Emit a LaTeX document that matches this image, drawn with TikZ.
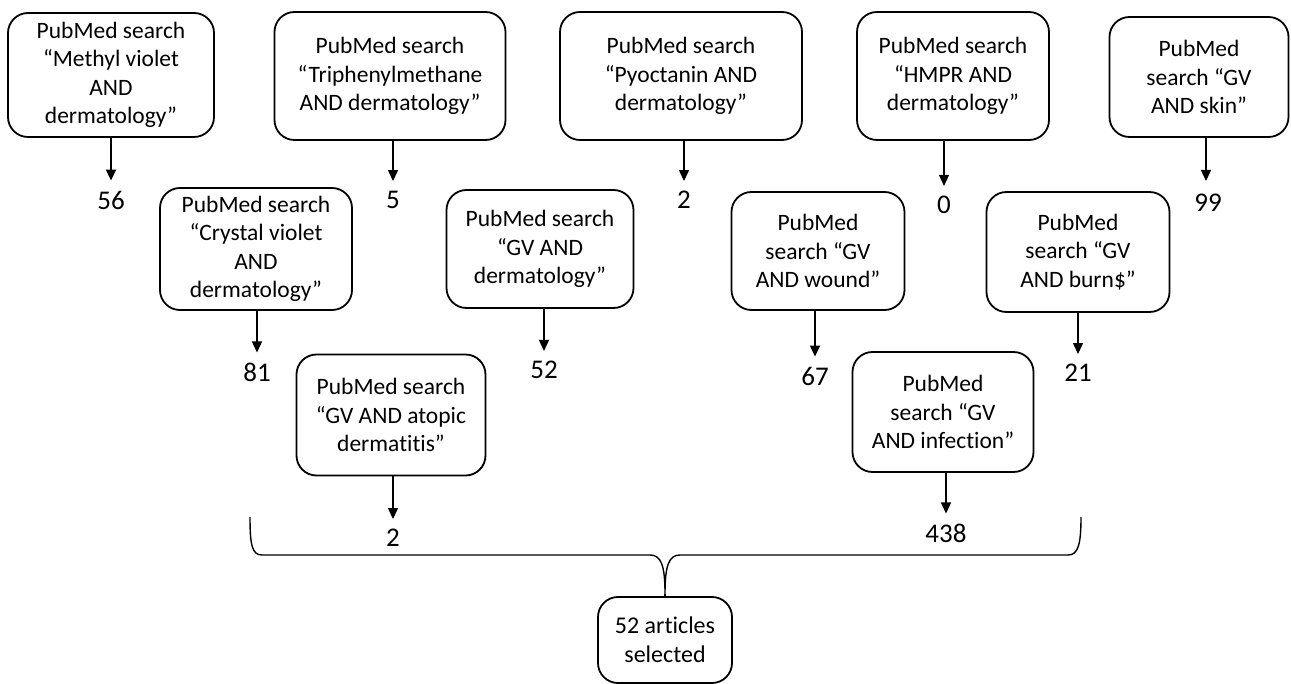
\documentclass[tikz,border=0pt]{standalone}
\usepackage{fontspec}
\setmainfont{Carlito}[Ligatures=NoCommon]
\usetikzlibrary{arrows.meta}
\tikzset{
  box/.style={draw, line width=1.8pt, rounded corners=20pt, align=center, inner sep=0pt,
    font=\fontsize{23.5}{28.5}\selectfont},
  num/.style={inner sep=2pt, font=\fontsize{27}{31}\selectfont},
  arr/.style={line width=1.4pt, -{Triangle[width=10pt,length=11pt]}, shorten >=8pt},
  bracestyle/.style={line width=1.4pt}
}
\begin{document}
\begin{tikzpicture}[x=1pt,y=-1pt]
\useasboundingbox (0,0) rectangle (1291,684);
% row 1
\node[box, minimum width=206pt, minimum height=124pt] (b1) at (111,75) {PubMed search\\“Methyl violet\\AND\\dermatology”};
\node[box, minimum width=231pt, minimum height=128pt] (b2) at (390,76) {PubMed search\\“Triphenylmethane\\AND dermatology”};
\node[box, minimum width=242pt, minimum height=128pt] (b3) at (681,76) {PubMed search\\“Pyoctanin AND\\dermatology”};
\node[box, minimum width=192pt, minimum height=128pt] (b4) at (953,76) {PubMed search\\“HMPR AND\\dermatology”};
\node[box, minimum width=179pt, minimum height=120pt] (b5) at (1199,77) {PubMed\\search “GV\\AND skin”};
% row 2
\node[box, minimum width=192pt, minimum height=122pt] (b6) at (256,249) {PubMed search\\“Crystal violet\\AND\\dermatology”};
\node[box, minimum width=187pt, minimum height=118pt] (b7) at (540,249) {PubMed search\\“GV AND\\dermatology”};
\node[box, minimum width=173pt, minimum height=118pt] (b8) at (818,251) {PubMed\\search “GV\\AND wound”};
\node[box, minimum width=183pt, minimum height=120pt] (b9) at (1078,252) {PubMed\\search “GV\\AND burn\$”};
% row 3
\node[box, minimum width=189pt, minimum height=121pt] (b10) at (391,415) {PubMed search\\“GV AND atopic\\dermatitis”};
\node[box, minimum width=181pt, minimum height=120pt] (b11) at (943,412) {PubMed\\search “GV\\AND infection”};
% result
\node[box, minimum width=134pt, minimum height=86pt, font=\fontsize{24}{29}\selectfont] (b12) at (665,640) {52 articles\\selected};
% numbers
\node[num] (n1) at (111,200) {56};
\node[num] (n2) at (393,200) {5};
\node[num] (n3) at (684,200) {2};
\node[num] (n4) at (944,205) {0};
\node[num] (n5) at (1208,203) {99};
\node[num] (n6) at (257,372) {81};
\node[num] (n7) at (544,370) {52};
\node[num] (n8) at (815,376) {67};
\node[num] (n9) at (1078,373) {21};
\node[num] (n10) at (393,538) {2};
\node[num] (n11) at (946,533) {438};
% arrows
\draw[arr] (b1.south -| n1) -- (n1.north);
\draw[arr] (b2.south -| n2) -- (n2.north);
\draw[arr] (b3.south -| n3) -- (n3.north);
\draw[arr] (b4.south -| n4) -- (n4.north);
\coordinate (t5) at (1206,181);
\draw[arr, shorten >=0pt] (b5.south -| t5) -- (t5);
\draw[arr] (b6.south -| n6) -- (n6.north);
\draw[arr] (b7.south -| n7) -- (n7.north);
\draw[arr] (b8.south -| n8) -- (n8.north);
\draw[arr] (b9.south -| n9) -- (n9.north);
\draw[arr] (b10.south -| n10) -- (n10.north);
\draw[arr] (b11.south -| n11) -- (n11.north);
% brace
\coordinate (bl) at (250,517);
\coordinate (br) at (1081,517);
\coordinate (tip) at (665,594);
\draw[bracestyle] (bl) .. controls (250,545) and (252,555) .. (262,555) -- (650,555)
  .. controls (661,555) and (665,565) .. (tip)
  .. controls (665,565) and (669,555) .. (680,555) -- (1068,555)
  .. controls (1078,555) and (1081,545) .. (br);
\draw[bracestyle] (tip) -- (b12.north);
\end{tikzpicture}
\end{document}
